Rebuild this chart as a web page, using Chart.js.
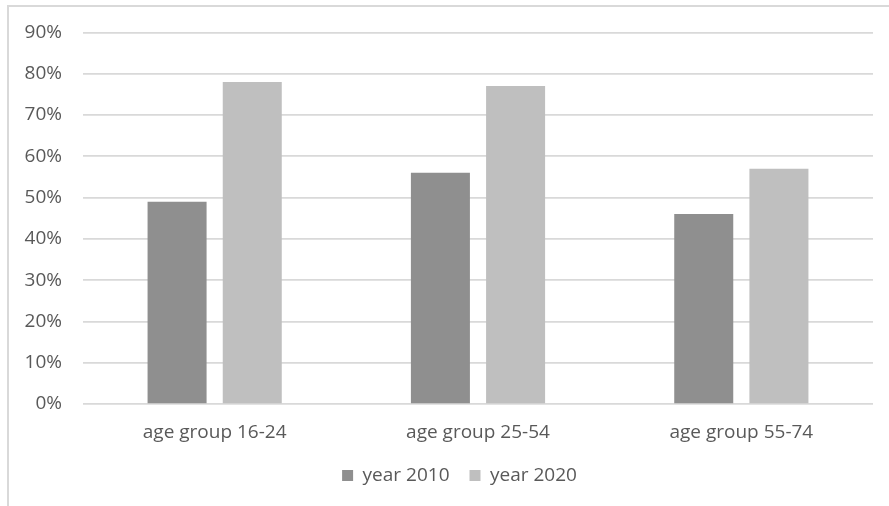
<!DOCTYPE html>
<html>
<head>
<meta charset="utf-8">
<script src="https://cdn.jsdelivr.net/npm/chart.js@4/dist/chart.umd.min.js"></script>
<style>
  html, body { margin: 0; padding: 0; background: #fff; overflow: hidden; }
  #wrap { position: relative; width: 889px; height: 506px; }
  #frame { position: absolute; left: 7px; top: 5px; right: -10px; bottom: -10px;
           border-left: 2px solid #d9d9d9; border-top: 2px solid #d9d9d9; pointer-events: none; }
</style>
</head>
<body>
<div id="wrap">
  <canvas id="myChart" width="889" height="506"></canvas>
  <div id="frame"></div>
</div>
<script>
var categories = ['age group 16-24', 'age group 25-54', 'age group 55-74'];
var year2010 = [49, 56, 46];
var year2020 = [78, 77, 57];
var seriesNames = ['year 2010', 'year 2020'];
var yTicks = [0, 10, 20, 30, 40, 50, 60, 70, 80, 90];

var textColor = '#595959';
var fontFamily = '"Open Sans", sans-serif';

// nudge the legend a bit to the right, like in the original
var legendShift = {
    id: 'legendShift',
    afterLayout: function (chart) {
        chart.legend.left += 23;
        chart.legend.right += 23;
    }
};

var ctx = document.getElementById('myChart').getContext('2d');
var myChart = new Chart(ctx, {
    type: 'bar',
    data: {
        labels: categories,
        datasets: [{
            label: seriesNames[0],
            data: year2010,
            backgroundColor: '#8f8f8f',
            categoryPercentage: 0.571,
            barPercentage: 0.785
        }, {
            label: seriesNames[1],
            data: year2020,
            backgroundColor: '#bfbfbf',
            categoryPercentage: 0.571,
            barPercentage: 0.785
        }]
    },
    options: {
        responsive: false,
        animation: false,
        layout: {
            padding: { top: 32, right: 16, left: 0, bottom: 11 }
        },
        plugins: {
            tooltip: { enabled: false },
            legend: {
                position: 'bottom',
                labels: {
                    color: textColor,
                    font: { family: fontFamily, size: 19 },
                    boxWidth: 11,
                    boxHeight: 11,
                    padding: 20
                }
            }
        },
        scales: {
            x: {
                afterFit: function (scale) { scale.height = 42; },
                grid: { display: false, drawTicks: false },
                border: { display: false },
                ticks: {
                    color: textColor,
                    font: { family: fontFamily, size: 19 },
                    padding: 17
                }
            },
            y: {
                min: 0,
                max: 90,
                afterFit: function (scale) { scale.width = 83; },
                afterBuildTicks: function (scale) {
                    scale.ticks = yTicks.map(function (v) { return { value: v }; });
                },
                grid: { color: '#d9d9d9', lineWidth: 1.7, drawTicks: false },
                border: { display: false },
                ticks: {
                    color: textColor,
                    font: { family: fontFamily, size: 19 },
                    padding: 21,
                    callback: function (v) { return v + '%'; }
                }
            }
        }
    },
    plugins: [legendShift]
});
</script>
</body>
</html>
